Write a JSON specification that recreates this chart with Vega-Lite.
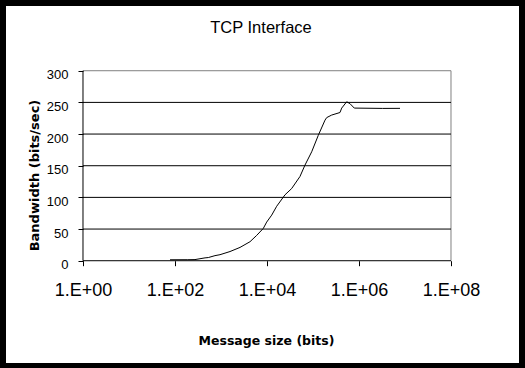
{
  "$schema": "https://vega.github.io/schema/vega-lite/v6.json",
  "width": 513,
  "height": 357,
  "autosize": {"type": "none"},
  "padding": {"left": 6, "top": 6, "right": 6, "bottom": 5},
  "background": "black",
  "config": {"view": {"fill": "white", "stroke": null}, "font": "Liberation Sans"},
  "title": {"text": "TCP Interface", "font": "Liberation Sans", "fontSize": 16.5, "fontWeight": "normal", "color": "black", "anchor": "middle", "baseline": "alphabetic", "offset": -43, "dx": -1.5},
  "datasets": {
    "one": [{}],
    "grid": [{"level": 0}, {"level": 50}, {"level": 100}, {"level": 150}, {"level": 200}, {"level": 250}],
    "tcp": [
      {"size": 78, "bandwidth": 1.5},
      {"size": 190, "bandwidth": 1.6},
      {"size": 272, "bandwidth": 1.8},
      {"size": 450, "bandwidth": 4.5},
      {"size": 530, "bandwidth": 5},
      {"size": 740, "bandwidth": 8},
      {"size": 951, "bandwidth": 9.5},
      {"size": 1570, "bandwidth": 14.5},
      {"size": 2590, "bandwidth": 21},
      {"size": 4270, "bandwidth": 30},
      {"size": 5970, "bandwidth": 40},
      {"size": 8310, "bandwidth": 51},
      {"size": 9840, "bandwidth": 61},
      {"size": 12650, "bandwidth": 72},
      {"size": 16250, "bandwidth": 86},
      {"size": 24600, "bandwidth": 104},
      {"size": 34400, "bandwidth": 114},
      {"size": 52100, "bandwidth": 133},
      {"size": 67000, "bandwidth": 151},
      {"size": 93700, "bandwidth": 172},
      {"size": 130300, "bandwidth": 198},
      {"size": 182500, "bandwidth": 222},
      {"size": 198600, "bandwidth": 226},
      {"size": 255000, "bandwidth": 230},
      {"size": 386000, "bandwidth": 234},
      {"size": 421000, "bandwidth": 241},
      {"size": 540000, "bandwidth": 251},
      {"size": 637000, "bandwidth": 248},
      {"size": 790000, "bandwidth": 241},
      {"size": 3270000, "bandwidth": 240.5},
      {"size": 7790000, "bandwidth": 240.6}
    ]
  },
  "layer": [
    {
      "data": {"name": "tcp"},
      "mark": {"type": "line", "color": "black", "strokeWidth": 1},
      "encoding": {
        "x": {
          "field": "size", "type": "quantitative",
          "scale": {"type": "log", "domain": [0.02119, 3008000000], "nice": false},
          "axis": {
            "values": [1, 100, 10000, 1000000, 100000000],
            "labelExpr": "'1.E+0' + round(log(datum.value)/LN10)",
            "orient": "bottom", "offset": -102.3, "domain": false, "grid": false,
            "ticks": true, "tickSize": 5, "tickColor": "black", "tickWidth": 1,
            "labelFont": "Liberation Sans", "labelFontSize": 18, "labelColor": "black",
            "labelPadding": 29.3, "labelBaseline": "alphabetic", "labelFlush": false, "labelOverlap": false,
            "title": "Message size (bits)", "titleFont": "DejaVu Sans", "titleFontWeight": "bold", "titleFontSize": 12.5,
            "titleColor": "black", "titleX": 260, "titleY": 83.5, "titleAlign": "center", "titleBaseline": "alphabetic"
          }
        },
        "y": {
          "field": "bandwidth", "type": "quantitative",
          "scale": {"domain": [-161.5, 402.2], "nice": false, "zero": false},
          "axis": {
            "values": [0, 50, 100, 150, 200, 250, 300],
            "orient": "left", "offset": -77, "domain": false, "grid": false,
            "tickSize": 5, "tickColor": "black", "tickWidth": 1,
            "labelFont": "Liberation Sans", "labelFontSize": 13, "labelColor": "black",
            "labelPadding": 10, "labelBaseline": "alphabetic", "labelOffset": 8,
            "title": "Bandwidth (bits/sec)", "titleFont": "DejaVu Sans", "titleFontWeight": "bold", "titleFontSize": 13,
            "titleColor": "black", "titleAngle": 270, "titleX": -49, "titleY": 169, "titleAlign": "center", "titleBaseline": "middle"
          }
        }
      }
    },
    {
      "data": {"name": "one"},
      "mark": {"type": "rule", "color": "#808080", "strokeWidth": 1},
      "encoding": {
        "y": {"datum": 300, "type": "quantitative"},
        "x": {"datum": 1, "type": "quantitative"},
        "x2": {"datum": 100000000}
      }
    },
    {
      "data": {"name": "one"},
      "mark": {"type": "rule", "color": "#808080", "strokeWidth": 1},
      "encoding": {
        "x": {"datum": 100000000, "type": "quantitative"},
        "y": {"datum": 0, "type": "quantitative"},
        "y2": {"datum": 300}
      }
    },
    {
      "data": {"name": "grid"},
      "mark": {"type": "rule", "color": "black", "strokeWidth": 1},
      "encoding": {
        "y": {"field": "level", "type": "quantitative"},
        "x": {"datum": 1, "type": "quantitative"},
        "x2": {"datum": 100000000}
      }
    },
    {
      "data": {"name": "one"},
      "mark": {"type": "rule", "color": "black", "strokeWidth": 1},
      "encoding": {
        "x": {"datum": 1, "type": "quantitative"},
        "y": {"datum": 0, "type": "quantitative"},
        "y2": {"datum": 300}
      }
    }
  ]
}
